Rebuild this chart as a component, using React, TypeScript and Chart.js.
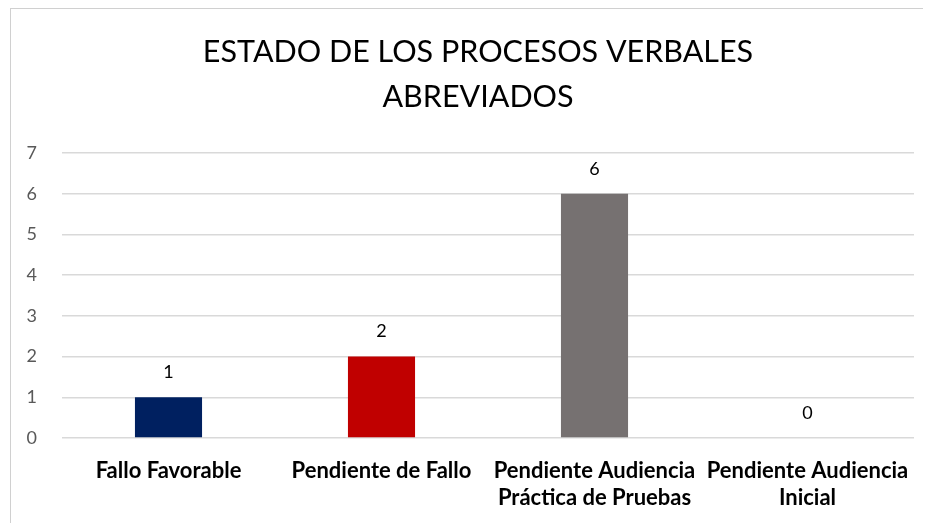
import React, { useEffect, useRef } from "react";
import { Chart, registerables } from "chart.js";

Chart.register(...registerables);

const titleLines = ["ESTADO DE LOS PROCESOS VERBALES", "ABREVIADOS"];
const categories = [
  ["Fallo Favorable"],
  ["Pendiente de Fallo"],
  ["Pendiente Audiencia", "Práctica de Pruebas"],
  ["Pendiente Audiencia", "Inicial"],
];
const values = [1, 2, 6, 0];
const barColors = ["#002060", "#C00000", "#767171", "#A5A5A5"];
const yTicks = [0, 1, 2, 3, 4, 5, 6, 7];

const FONT = "Lato, 'Open Sans', sans-serif";

const valueLabels = {
  id: "valueLabels",
  afterDatasetsDraw(chart: any) {
    const ctx = chart.ctx;
    const meta = chart.getDatasetMeta(0);
    ctx.save();
    ctx.font = `18px ${FONT}`;
    ctx.fillStyle = "#000000";
    ctx.textAlign = "center";
    ctx.textBaseline = "middle";
    meta.data.forEach((bar: any, i: number) => {
      ctx.fillText(String(values[i]), bar.x, bar.y - 25);
    });
    ctx.restore();
  },
};

const chartTitle = {
  id: "chartTitle",
  afterDraw(chart: any) {
    const ctx = chart.ctx;
    ctx.save();
    ctx.font = `30.5px ${FONT}`;
    ctx.fillStyle = "#000000";
    ctx.textAlign = "center";
    ctx.textBaseline = "middle";
    titleLines.forEach((line, i) => {
      ctx.fillText(line, 478, 52 + i * 45);
    });
    ctx.restore();
  },
};

export default function App() {
  const ref = useRef<HTMLCanvasElement | null>(null);
  useEffect(() => {
    if (!ref.current) return;
    const chart = new Chart(ref.current, {
      type: "bar",
      data: {
        labels: categories as any,
        datasets: [
          {
            data: values,
            backgroundColor: barColors,
            barPercentage: 0.315,
            categoryPercentage: 1,
          },
        ],
      },
      options: {
        animation: false,
        responsive: false,
        layout: { padding: { left: 0, right: 16, top: 153, bottom: 0 } },
        plugins: {
          legend: { display: false },
          tooltip: { enabled: false },
          title: { display: false },
        },
        scales: {
          x: {
            grid: { display: false },
            border: { display: false },
            ticks: {
              color: "#000000",
              font: { family: FONT, size: 22, weight: "bold", lineHeight: 1.23 },
              padding: 11,
              maxRotation: 0,
              autoSkip: false,
            },
            afterFit(scale: any) {
              scale.height = 85;
            },
          },
          y: {
            min: 0,
            max: 7,
            afterBuildTicks(scale: any) {
              scale.ticks = yTicks.map((v) => ({ value: v }));
            },
            grid: { color: "#D9D9D9", lineWidth: 1.5, drawTicks: false },
            border: { display: false },
            ticks: {
              color: "#595959",
              font: { family: FONT, size: 18 },
              padding: 25,
            },
            afterFit(scale: any) {
              scale.width = 62;
            },
          },
        },
      },
      plugins: [valueLabels, chartTitle],
    });
    return () => chart.destroy();
  }, []);

  return (
    <div style={{ position: "fixed", left: 0, top: 0, width: 930, height: 523, background: "#fff", overflow: "hidden" }}>
      <canvas ref={ref} width={930} height={523} style={{ position: "absolute", left: 0, top: 0 }} />
      <div
        style={{
          position: "absolute",
          left: 10,
          top: 8,
          width: 912,
          height: 515,
          borderLeft: "1px solid #D0D0D0",
          borderTop: "1px solid #D0D0D0",
          pointerEvents: "none",
        }}
      />
    </div>
  );
}
